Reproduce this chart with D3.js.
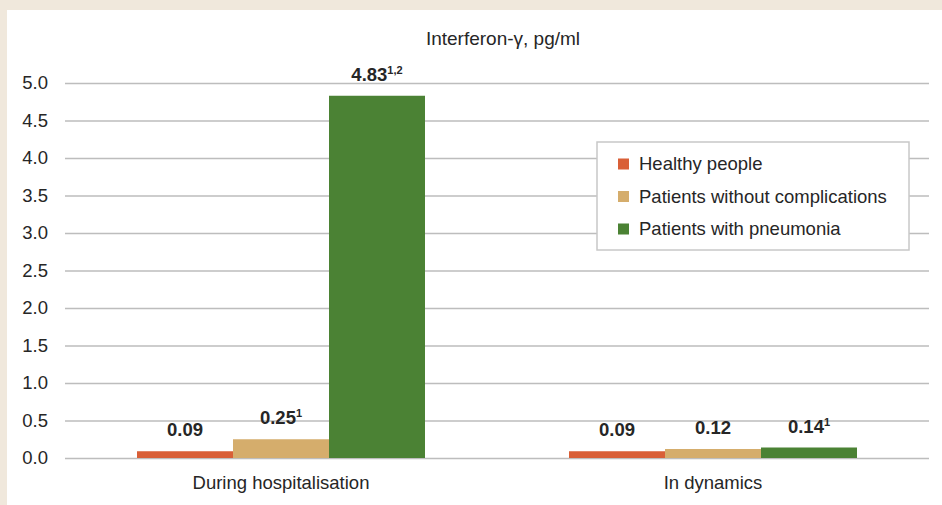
<!DOCTYPE html>
<html>
<head>
<meta charset="utf-8">
<script src="https://cdn.jsdelivr.net/npm/d3@7"></script>
<style>
    body { margin: 0; background: #fff; }
    svg text { font-family: "Liberation Sans", Arial, sans-serif; fill: #262626; }
</style>
</head>
<body>
<svg id="chart" width="942" height="505"></svg>
<script>

const categories = ['During hospitalisation', 'In dynamics'];
const series = ['Healthy people', 'Patients without complications', 'Patients with pneumonia'];
const colors = ['#d95f37', '#d5ad6c', '#4b8234'];

// values[category][series]
const values = [
    [0.09, 0.25, 4.83],
    [0.09, 0.12, 0.14]
];
// superscript notes on the value labels
const notes = [
    ['', '1', '1,2'],
    ['', '', '1']
];
const yTicks = [0, 0.5, 1, 1.5, 2, 2.5, 3, 3.5, 4, 4.5, 5];
const title = 'Interferon-γ, pg/ml';

const svg = d3.select('#chart');
const width = 942;
const height = 505;

// page frame
svg.append('rect').attr('width', width).attr('height', height).attr('fill', '#f0e8dc');
svg.append('rect').attr('x', 7).attr('y', 10)
    .attr('width', width - 7).attr('height', height - 10).attr('fill', '#fff');

const x0 = d3.scaleBand()
    .domain(categories)
    .range([65, 929])
    .paddingInner(0)
    .paddingOuter(0);

const x1 = d3.scaleBand()
    .domain(series)
    .range([0, x0.bandwidth()])
    .paddingInner(0)
    .paddingOuter(0.75);

const y = d3.scaleLinear()
    .domain([0, 5])
    .range([458, 83]);

// grid + tick labels
const yAxis = svg.append('g')
    .attr('transform', 'translate(65,0)')
    .call(d3.axisLeft(y)
        .tickValues(yTicks)
        .tickFormat(d3.format('.1f'))
        .tickSize(-(929 - 65))
        .tickPadding(17));

yAxis.select('.domain').remove();
yAxis.selectAll('.tick line')
    .attr('stroke', '#bdbdbd')
    .attr('stroke-width', 1.5);
yAxis.selectAll('.tick text')
    .style('font-size', '18.5px')
    .style('font-family', '"Liberation Sans", Arial, sans-serif')
    .attr('fill', '#262626');

// title
svg.append('text')
    .attr('x', 503)
    .attr('y', 45)
    .attr('text-anchor', 'middle')
    .style('font-size', '19px')
    .text(title);

// bars
const groups = svg.append('g')
    .selectAll('g')
    .data(categories)
    .join('g')
    .attr('transform', d => `translate(${x0(d)},0)`);

groups.selectAll('rect')
    .data((c, ci) => series.map((s, si) => ({s, si, v: values[ci][si], note: notes[ci][si]})))
    .join('rect')
    .attr('x', d => x1(d.s))
    .attr('y', d => y(d.v))
    .attr('width', x1.bandwidth())
    .attr('height', d => y(0) - y(d.v))
    .attr('fill', d => colors[d.si]);

// value labels
const labels = groups.selectAll('text.value')
    .data((c, ci) => series.map((s, si) => ({s, si, v: values[ci][si], note: notes[ci][si]})))
    .join('text')
    .attr('class', 'value')
    .attr('x', d => x1(d.s) + x1.bandwidth() / 2)
    .attr('y', d => y(d.v) - 15)
    .attr('text-anchor', 'middle')
    .style('font-size', '18.5px')
    .style('font-weight', 'bold');

labels.append('tspan').text(d => d3.format('.2f')(d.v));
labels.filter(d => d.note)
    .append('tspan')
    .attr('dy', -7)
    .style('font-size', '11px')
    .text(d => d.note);

// category labels
svg.append('g')
    .selectAll('text')
    .data(categories)
    .join('text')
    .attr('x', d => x0(d) + x0.bandwidth() / 2)
    .attr('y', 489)
    .attr('text-anchor', 'middle')
    .style('font-size', '18.5px')
    .text(d => d);

// legend
const legend = svg.append('g').attr('transform', 'translate(597,142)');
legend.append('rect')
    .attr('width', 312)
    .attr('height', 108)
    .attr('fill', '#fff')
    .attr('stroke', '#c8c8c8')
    .attr('stroke-width', 1.5);

const items = legend.selectAll('g.item')
    .data(series)
    .join('g')
    .attr('class', 'item')
    .attr('transform', (d, i) => `translate(0,${22 + i * 32.5})`);

items.append('rect')
    .attr('x', 21)
    .attr('y', -5.5)
    .attr('width', 11)
    .attr('height', 11)
    .attr('fill', (d, i) => colors[i]);

items.append('text')
    .attr('x', 42)
    .attr('y', 0)
    .attr('dy', '0.35em')
    .style('font-size', '18.5px')
    .text(d => d);

</script>
</body>
</html>
